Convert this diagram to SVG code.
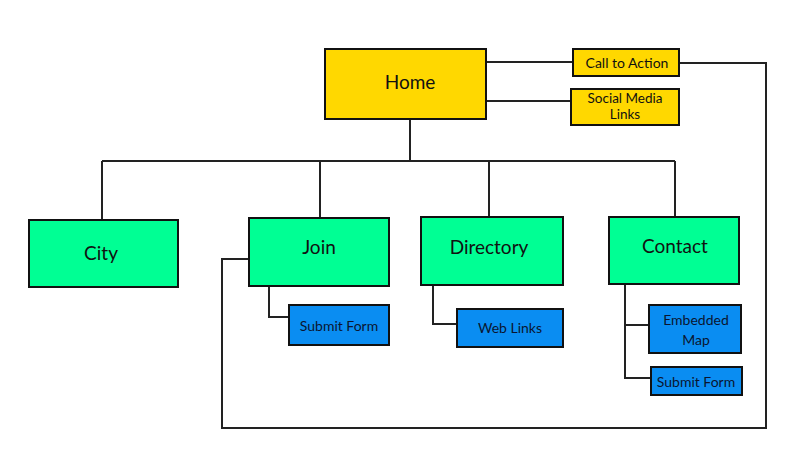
<svg xmlns="http://www.w3.org/2000/svg" width="800" height="475" viewBox="0 0 800 475">
<style>
.box{stroke:#111;stroke-width:2}
.y{fill:#FFD800}.g{fill:#00FF94}.b{fill:#0A8DF2}
.conn path{fill:none;stroke:#222;stroke-width:2}
text{font-family:Lato,"Open Sans",sans-serif;text-anchor:middle;dominant-baseline:central;fill:#111}
.big{font-size:19px}.sm{font-size:14px}
.bt{fill:#0a1530}
</style>
<rect width="800" height="475" fill="#fff"/>
<g class="conn">
<path d="M486 62H573"/>
<path d="M486 101H571"/>
<path d="M679 63H766V428H222V259H249"/>
<path d="M410 119V161"/>
<path d="M102 161H675"/>
<path d="M102 161V220"/>
<path d="M320 161V218"/>
<path d="M489 161V217"/>
<path d="M675 161V217"/>
<path d="M269 286V317H289"/>
<path d="M433 285V324H457"/>
<path d="M625 284V378H651"/>
<path d="M625 325H649"/>
</g>
<g id="home"><rect class="box y" x="325" y="49" width="161" height="70"/><text class="big" x="410" y="81">Home</text></g>
<g id="cta"><rect class="box y" x="573" y="49" width="106" height="27"/><text class="sm" x="627" y="62">Call to Action</text></g>
<g id="social"><rect class="box y" x="571" y="89" width="108" height="36"/><text class="sm" x="625" y="97.5" style="font-size:13.5px">Social Media</text><text class="sm" x="625" y="114" style="font-size:13.5px">Links</text></g>
<g id="city"><rect class="box g" x="29" y="220" width="149" height="67"/><text class="big" x="101" y="252">City</text></g>
<g id="join"><rect class="box g" x="249" y="218" width="140" height="68"/><text class="big" x="319" y="246">Join</text></g>
<g id="directory"><rect class="box g" x="421" y="217" width="142" height="68"/><text class="big" x="489" y="246">Directory</text></g>
<g id="contact"><rect class="box g" x="609" y="217" width="130" height="67"/><text class="big" x="675" y="245">Contact</text></g>
<g id="join-submit"><rect class="box b" x="289" y="305" width="100" height="40"/><text class="sm bt" x="339" y="325">Submit Form</text></g>
<g id="weblinks"><rect class="box b" x="457" y="309" width="106" height="38"/><text class="sm bt" x="510" y="327">Web Links</text></g>
<g id="map"><rect class="box b" x="649" y="305" width="92" height="48"/><text class="sm bt" x="696" y="319">Embedded</text><text class="sm bt" x="696" y="339">Map</text></g>
<g id="contact-submit"><rect class="box b" x="651" y="367" width="91" height="28"/><text class="sm bt" x="696" y="381">Submit Form</text></g>
</svg>
